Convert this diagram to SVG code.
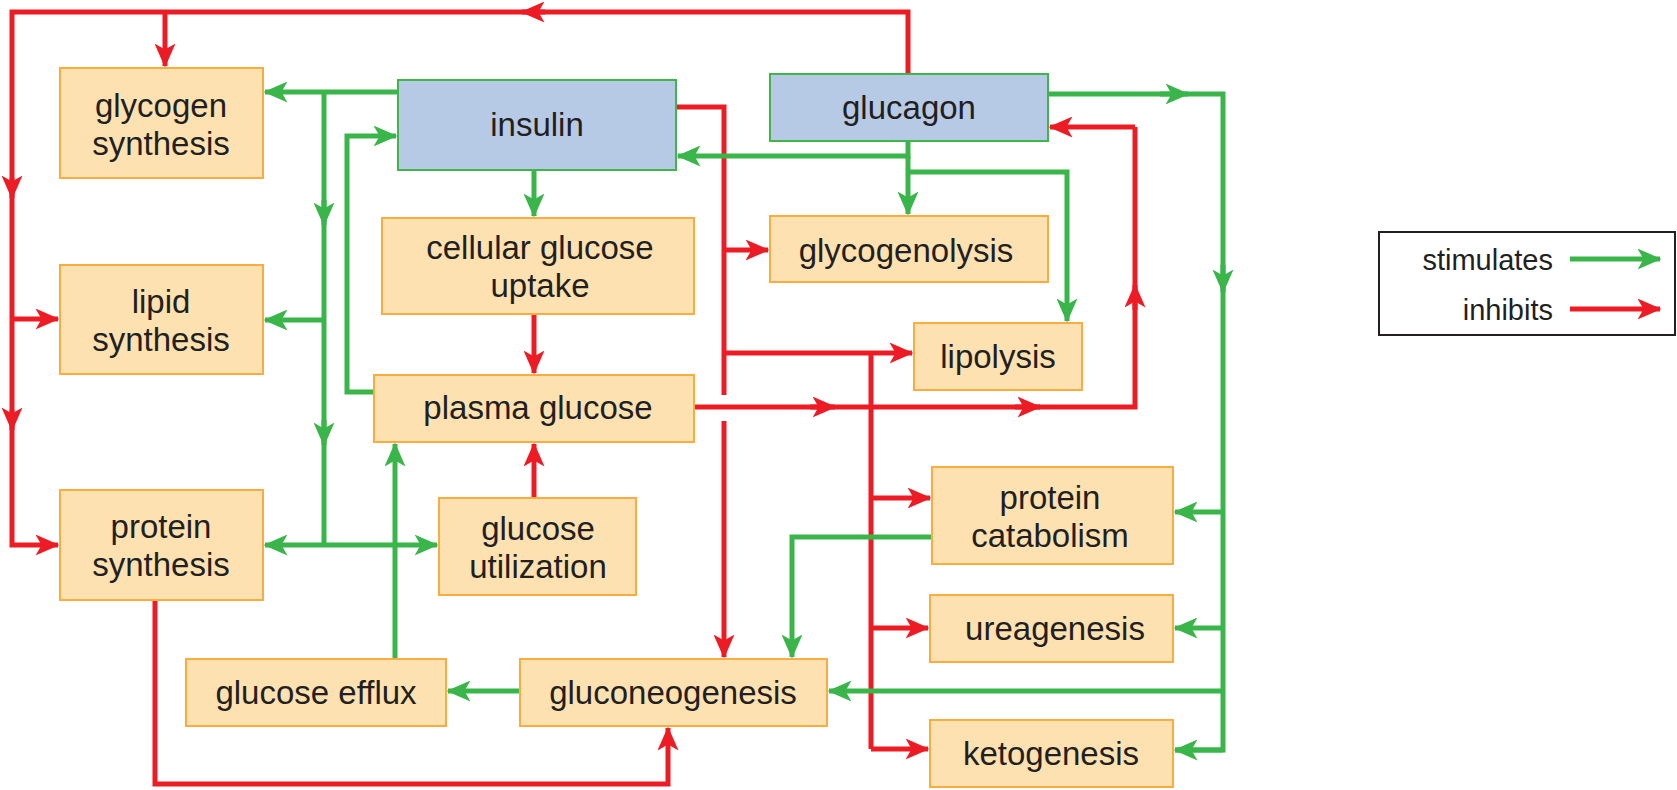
<svg xmlns="http://www.w3.org/2000/svg" width="1677" height="790" viewBox="0 0 1677 790">
<style>
.n{fill:#fde1b0;stroke:#f9ad40;stroke-width:2}
.h{fill:#b7cae5;stroke:#3fb54a;stroke-width:2}
text{font-family:"Liberation Sans",Arial,sans-serif;font-size:33px;fill:#231f20;text-anchor:middle}
.r{fill:none;stroke:#ed1c24;stroke-width:5}
.g{fill:none;stroke:#39b54a;stroke-width:5}
.rm{marker-end:url(#ar)}
.gm{marker-end:url(#ag)}
</style>
<defs>
<marker id="ar" viewBox="0 0 16 14" refX="15" refY="7" markerWidth="24" markerHeight="21" markerUnits="userSpaceOnUse" orient="auto"><path d="M0,0 L16,7 L0,14 L4,7 z" fill="#ed1c24"/></marker>
<marker id="ag" viewBox="0 0 16 14" refX="15" refY="7" markerWidth="24" markerHeight="21" markerUnits="userSpaceOnUse" orient="auto"><path d="M0,0 L16,7 L0,14 L4,7 z" fill="#39b54a"/></marker>
</defs>
<rect width="1677" height="790" fill="#fff"/>
<g id="connectors">
<path class="r rm" d="M908,74 V12 H12 V545 H58"/>
<path class="r rm" d="M545,12 H522"/>
<path class="r rm" d="M12,178 V198"/>
<path class="r rm" d="M12,410 V430"/>
<path class="r rm" d="M165,12 V66"/>
<path class="r rm" d="M12,319 H58"/>
<path class="r" d="M676,107 H724 V395"/>
<path class="r rm" d="M724,421 V657"/>
<path class="r rm" d="M724,250 H768"/>
<path class="r rm" d="M724,353 H912"/>
<path class="r" d="M871,353 V749"/>
<path class="r rm" d="M871,498 H930"/>
<path class="r rm" d="M871,628 H928"/>
<path class="r rm" d="M871,749 H928"/>
<path class="r" d="M694,407 H1135 V127"/>
<path class="r rm" d="M1135,127 H1050"/>
<path class="r rm" d="M810,407 H835"/>
<path class="r rm" d="M1015,407 H1040"/>
<path class="r rm" d="M1135,310 V285"/>
<path class="r rm" d="M534,314 V373"/>
<path class="r rm" d="M534,498 V444"/>
<path class="r rm" d="M155,600 V784 H668 V728"/>
<path class="g gm" d="M398,92 H265"/>
<path class="g" d="M324,92 V545"/>
<path class="g gm" d="M324,200 V225"/>
<path class="g gm" d="M324,420 V445"/>
<path class="g gm" d="M324,320 H265"/>
<path class="g gm" d="M324,545 H265"/>
<path class="g gm" d="M324,545 H437"/>
<path class="g gm" d="M374,392 H347 V136 H396"/>
<path class="g gm" d="M534,170 V216"/>
<path class="g gm" d="M395,659 V444"/>
<path class="g gm" d="M520,691 H448"/>
<path class="g gm" d="M908,141 V156 H678"/>
<path class="g gm" d="M908,156 V214"/>
<path class="g gm" d="M908,172 H1067 V321"/>
<path class="g" d="M1048,94 H1223 V750 H1175"/>
<path class="g gm" d="M1160,94 H1188"/>
<path class="g gm" d="M1223,265 V292"/>
<path class="g gm" d="M1223,750 H1175"/>
<path class="g gm" d="M1223,512 H1175"/>
<path class="g gm" d="M1223,628 H1175"/>
<path class="g gm" d="M1223,691 H829"/>
<path class="g gm" d="M932,537 H792 V657"/>
</g>
<g id="glycogen-synthesis"><rect class="n" x="60" y="68" width="203" height="110"/><text x="161" y="117">glycogen</text><text x="161" y="155">synthesis</text></g>
<g id="lipid-synthesis"><rect class="n" x="60" y="265" width="203" height="109"/><text x="161" y="313">lipid</text><text x="161" y="351">synthesis</text></g>
<g id="protein-synthesis"><rect class="n" x="60" y="490" width="203" height="110"/><text x="161" y="538">protein</text><text x="161" y="576">synthesis</text></g>
<g id="insulin"><rect class="h" x="398" y="80" width="278" height="90"/><text x="537" y="136">insulin</text></g>
<g id="glucagon"><rect class="h" x="770" y="74" width="278" height="67"/><text x="909" y="119">glucagon</text></g>
<g id="cellular-glucose-uptake"><rect class="n" x="382" y="218" width="312" height="96"/><text x="540" y="259">cellular glucose</text><text x="540" y="297">uptake</text></g>
<g id="plasma-glucose"><rect class="n" x="374" y="375" width="320" height="67"/><text x="538" y="419">plasma glucose</text></g>
<g id="glycogenolysis"><rect class="n" x="770" y="216" width="278" height="66"/><text x="906" y="262">glycogenolysis</text></g>
<g id="lipolysis"><rect class="n" x="914" y="323" width="168" height="67"/><text x="998" y="368">lipolysis</text></g>
<g id="glucose-utilization"><rect class="n" x="439" y="498" width="197" height="97"/><text x="538" y="540">glucose</text><text x="538" y="578">utilization</text></g>
<g id="glucose-efflux"><rect class="n" x="186" y="659" width="260" height="67"/><text x="316" y="704">glucose efflux</text></g>
<g id="gluconeogenesis"><rect class="n" x="520" y="659" width="307" height="67"/><text x="673" y="704">gluconeogenesis</text></g>
<g id="protein-catabolism"><rect class="n" x="932" y="467" width="241" height="97"/><text x="1050" y="509">protein</text><text x="1050" y="547">catabolism</text></g>
<g id="ureagenesis"><rect class="n" x="930" y="595" width="243" height="67"/><text x="1055" y="640">ureagenesis</text></g>
<g id="ketogenesis"><rect class="n" x="930" y="720" width="243" height="67"/><text x="1051" y="765">ketogenesis</text></g>
<g id="legend">
<rect x="1379" y="232" width="296" height="103" fill="#fff" stroke="#231f20" stroke-width="2"/>
<text x="1553" y="270" style="text-anchor:end;font-size:29px">stimulates</text>
<text x="1553" y="320" style="text-anchor:end;font-size:29px">inhibits</text>
<path class="g gm" d="M1570,259 H1660"/>
<path class="r rm" d="M1570,309 H1660"/>
</g>
</svg>
